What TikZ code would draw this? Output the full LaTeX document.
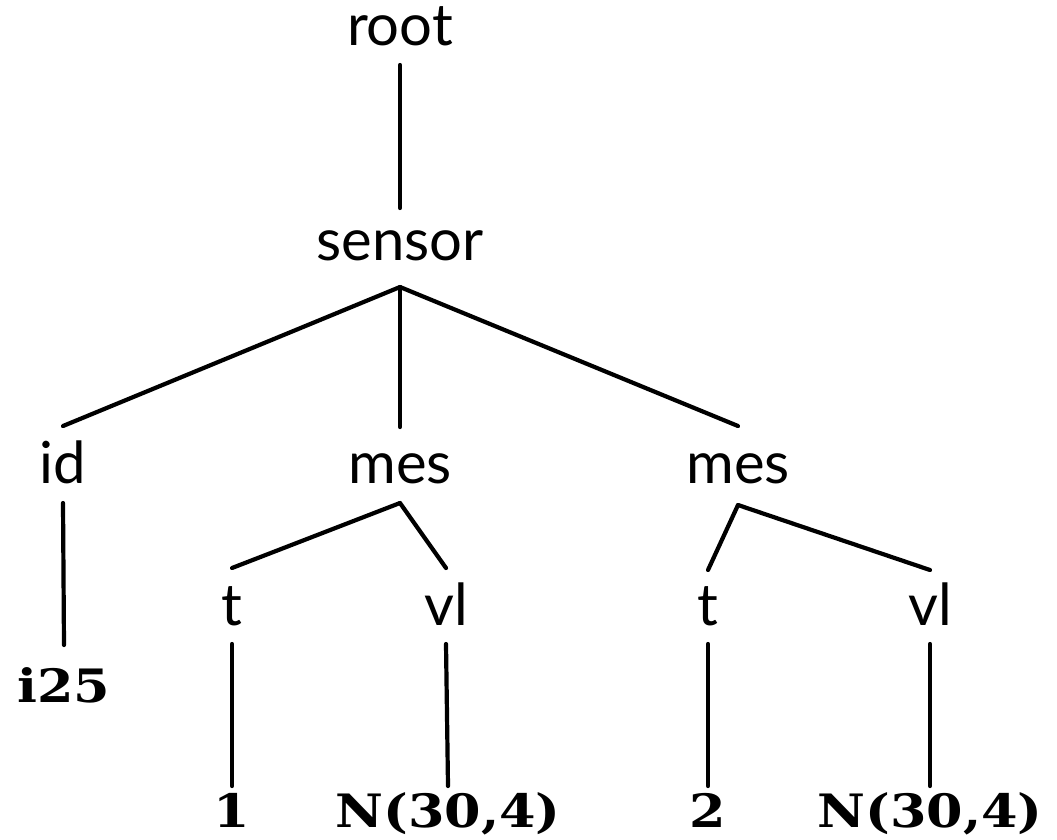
\documentclass[tikz,border=0pt]{standalone}
\usepackage{fontspec}
\setmainfont{Lato}
\newfontfamily\leaffont[FakeStretch=1.14]{DejaVu Serif Bold}
\begin{document}
\begin{tikzpicture}[x=1pt,y=-1pt,
  lab/.style={anchor=base,inner sep=0pt,font=\fontsize{58}{60}\selectfont},
  leaf/.style={anchor=base,inner sep=0pt,text depth=0pt,font=\leaffont\fontsize{46}{48}\selectfont},
  edge/.style={line width=4.2pt,line cap=round}]
\useasboundingbox (0,0) rectangle (1057,839);
\node[lab] (root) at (400,45) {root};
\node[lab] (sensor) at (400,260) {sensor};
\node[lab] (id) at (63,483) {id};
\node[lab] (mesA) at (400,483) {mes};
\node[lab] (mesB) at (738,483) {mes};
\node[lab] (tA) at (232,625) {t};
\node[lab] (vlA) at (446,625) {vl};
\node[lab] (tB) at (708,625) {t};
\node[lab] (vlB) at (930,625) {vl};
\node[leaf] (i25) at (64,702) {i25};
\node[leaf] (one) at (232,827) {1};
\node[leaf] (NA) at (448,827) {N(30,4)};
\node[leaf] (two) at (708,827) {2};
\node[leaf] (NB) at (930,827) {N(30,4)};
\draw[edge] ([yshift=-20]root.base) -- ([yshift=52]sensor.base);
\draw[edge] ([yshift=-27]sensor.base) -- ([yshift=57]id.base);
\draw[edge] ([yshift=-27]sensor.base) -- ([yshift=56]mesA.base);
\draw[edge] ([yshift=-27]sensor.base) -- ([yshift=57]mesB.base);
\draw[edge] ([yshift=-20]id.base) -- ([yshift=57]i25.base);
\draw[edge] ([yshift=-20]mesA.base) -- ([yshift=57]tA.base);
\draw[edge] ([yshift=-20]mesA.base) -- ([yshift=57]vlA.base);
\draw[edge] ([yshift=-22]mesB.base) -- ([yshift=55]tB.base);
\draw[edge] ([yshift=-22]mesB.base) -- ([yshift=55]vlB.base);
\draw[edge] ([yshift=-19]tA.base) -- ([yshift=41]one.base);
\draw[edge] ([yshift=-19]vlA.base) -- ([yshift=41]NA.base);
\draw[edge] ([yshift=-19]tB.base) -- ([yshift=41]two.base);
\draw[edge] ([yshift=-19]vlB.base) -- ([yshift=41]NB.base);
\end{tikzpicture}
\end{document}
